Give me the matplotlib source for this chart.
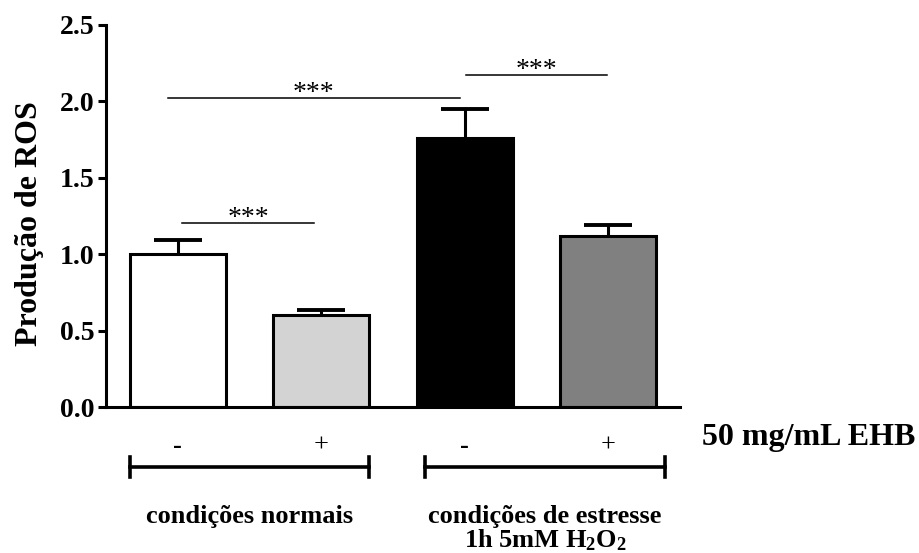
import matplotlib.pyplot as plt
import matplotlib.transforms as transforms

plt.rcParams['font.family'] = ['Liberation Serif', 'DejaVu Serif']
plt.rcParams['mathtext.fontset'] = 'custom'
plt.rcParams['mathtext.rm'] = 'Liberation Serif:bold'
plt.rcParams['mathtext.default'] = 'rm'

# ROS production, mean + SEM
means = [1.0, 0.60, 1.76, 1.12]
sems = [0.09, 0.035, 0.19, 0.07]
ehb_labels = ['-', '+', '-', '+']
bar_colors = ['white', '#d3d3d3', 'black', '#808080']
groups = ['condições normais', 'condições de estresse']
stress_line2 = '1h 5mM H$_2$O$_2$'
# significance brackets: (bar a, bar b, height)
sig_pairs = [(0, 1, 1.205), (0, 2, 2.02), (2, 3, 2.17)]
sig_text = '***'

fig = plt.figure(figsize=(9.2, 5.53), dpi=100)
ax = fig.add_axes([0.1152, 0.264, 0.6238, 0.691])

x = list(range(len(means)))
width = 0.67
ax.bar(x, means, width=width, color=bar_colors, edgecolor='black', linewidth=2.2, zorder=2)
# symmetric bars drawn underneath, so only the upper half shows
ax.errorbar(x, means, yerr=sems, fmt='none', ecolor='black',
            elinewidth=2.2, capsize=17, capthick=2.8, zorder=1)

ax.set_xlim(-0.5, 3.5)
ax.set_ylim(0, 2.5)
ax.set_yticks([0, 0.5, 1.0, 1.5, 2.0, 2.5])
ax.set_yticklabels(['0.0', '0.5', '1.0', '1.5', '2.0', '2.5'], fontsize=20, fontweight='bold')
ax.set_xticks(x)
ax.set_xticklabels(ehb_labels, fontsize=19)
for lbl in ax.get_xticklabels():
    if lbl.get_text() == '-':
        lbl.set_fontweight('bold')
ax.tick_params(axis='x', length=0, pad=20)
ax.tick_params(axis='y', length=6, width=2.2, pad=2)
for side in ['top', 'right']:
    ax.spines[side].set_visible(False)
for side in ['left', 'bottom']:
    ax.spines[side].set_linewidth(2.2)

ax.set_ylabel('Produção de ROS', fontsize=23, fontweight='bold')
ax.yaxis.set_label_coords(-0.108, 0.48)

# significance lines
ends = {(0, 1): (0.03, -0.05), (0, 2): (-0.07, -0.035), (2, 3): (0.007, -0.01)}
for a, b, h in sig_pairs:
    da, db = ends[(a, b)]
    xa = x[a] + da
    xb = x[b] + db
    ax.plot([xa, xb], [h, h], color='black', lw=1.1, clip_on=False)
    ax.text((xa + xb) / 2, h - 0.012, sig_text, ha='center', va='baseline', fontsize=20)

# EHB label and condition brackets below the axis
fig.text(702 / 920, 1 - 437 / 553, '50 mg/mL EHB', fontsize=23, fontweight='bold',
         ha='left', va='center')

trans = transforms.blended_transform_factory(ax.transData, fig.transFigure)
yb = 1 - 467 / 553
tick_h = 10 / 553
shift = [0.0, 0.06]
for i, label in enumerate(groups):
    left = x[2 * i] - width / 2 + shift[i]
    right = x[2 * i + 1] + width / 2 + shift[i]
    ax.plot([left, right], [yb, yb], color='black', lw=2.6, transform=trans, clip_on=False)
    for xe in (left, right):
        ax.plot([xe, xe], [yb - tick_h, yb + tick_h], color='black', lw=2.6,
                transform=trans, clip_on=False)
    ax.text((left + right) / 2, 1 - 516 / 553, label, fontsize=19, fontweight='bold',
            ha='center', va='center', transform=trans)
    if i == 1:
        ax.text((left + right) / 2, 1 - 547 / 553, stress_line2, fontsize=19,
                fontweight='bold', ha='center', va='baseline', transform=trans)

fig.savefig('out.png', dpi=100, facecolor='white')
